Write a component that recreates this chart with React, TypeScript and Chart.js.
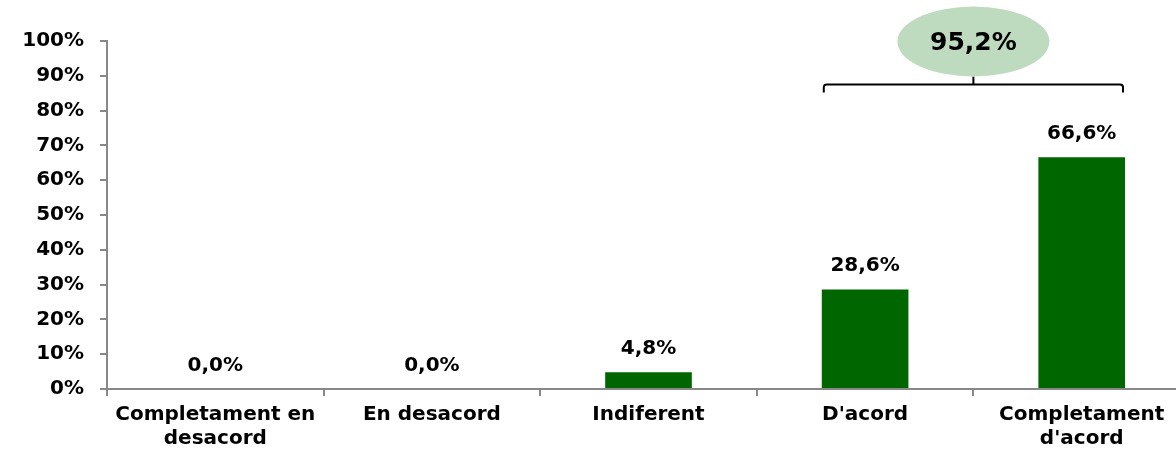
import React, { useEffect, useRef } from "react";
import { Chart, registerables } from "chart.js";

Chart.register(...registerables);

const categories: (string | string[])[] = [
  ["Completament en", "desacord"],
  "En desacord",
  "Indiferent",
  "D'acord",
  ["Completament", "d'acord"],
];
const values: number[] = [0.0, 0.0, 4.8, 28.6, 66.6];
const valueLabels: string[] = ["0,0%", "0,0%", "4,8%", "28,6%", "66,6%"];
const yTicks: number[] = [0, 10, 20, 30, 40, 50, 60, 70, 80, 90, 100];
const summaryLabel = "95,2%";
const summaryLevel = 87.5;
const summaryFrom = 3;
const summaryTo = 4;

const FONT = '"DejaVu Sans", Verdana, sans-serif';

const overlayPlugin = {
  id: "overlay",
  afterDatasetsDraw(chart: any) {
    const ctx = chart.ctx;
    const meta = chart.getDatasetMeta(0);
    const y = chart.scales.y;
    ctx.save();
    ctx.fillStyle = "#000";
    ctx.font = `normal 700 20px ${FONT}`;
    ctx.textAlign = "center";
    ctx.textBaseline = "alphabetic";
    meta.data.forEach((bar: any, i: number) => {
      ctx.fillText(valueLabels[i], bar.x, bar.y - 18);
    });
    // bracket
    const b1 = meta.data[summaryFrom];
    const b2 = meta.data[summaryTo];
    const left = b1.x - b1.width / 2 + 2;
    const right = b2.x + b2.width / 2 - 2;
    const mid = (left + right) / 2;
    const by = y.getPixelForValue(summaryLevel);
    ctx.strokeStyle = "#000";
    ctx.lineWidth = 2;
    ctx.beginPath();
    ctx.moveTo(left, by + 8);
    ctx.lineTo(left, by + 3);
    ctx.quadraticCurveTo(left, by, left + 3, by);
    ctx.lineTo(right - 3, by);
    ctx.quadraticCurveTo(right, by, right, by + 3);
    ctx.lineTo(right, by + 8);
    ctx.moveTo(mid, by);
    ctx.lineTo(mid, by - 8);
    ctx.stroke();
    // ellipse
    const ey = by - 43;
    ctx.fillStyle = "#bfdbbf";
    ctx.beginPath();
    ctx.ellipse(mid, ey, 76, 35, 0, 0, Math.PI * 2);
    ctx.fill();
    ctx.fillStyle = "#000";
    ctx.font = `normal 700 25px ${FONT}`;
    ctx.textBaseline = "middle";
    ctx.fillText(summaryLabel, mid, ey + 2);
    ctx.restore();
  },
};

export default function App() {
  const ref = useRef<HTMLCanvasElement>(null);
  useEffect(() => {
    if (!ref.current) return;
    const chart = new Chart(ref.current, {
      type: "bar",
      data: {
        labels: categories,
        datasets: [
          {
            data: values,
            backgroundColor: "#006600",
            categoryPercentage: 1,
            barPercentage: 0.4,
          },
        ],
      },
      options: {
        animation: false,
        responsive: false,
        maintainAspectRatio: false,
        layout: { padding: { top: 41, left: 0, right: 0, bottom: 0 } },
        plugins: { legend: { display: false }, tooltip: { enabled: false } },
        scales: {
          x: {
            offset: true,
            grid: {
              offset: true,
              drawOnChartArea: false,
              drawTicks: true,
              tickLength: 7,
              color: "#888888",
              lineWidth: 2,
            },
            border: { color: "#888888", width: 2 },
            ticks: {
              color: "#000",
              font: { family: FONT, weight: "bold", size: 20, lineHeight: 1.2 },
              padding: 7,
              maxRotation: 0,
              autoSkip: false,
            },
            afterFit(scale: any) {
              scale.height = 66;
            },
          },
          y: {
            min: 0,
            max: 100,
            afterBuildTicks(scale: any) {
              scale.ticks = yTicks.map((v) => ({ value: v }));
            },
            grid: {
              drawOnChartArea: false,
              drawTicks: true,
              tickLength: 7,
              color: "#888888",
              lineWidth: 2,
            },
            border: { color: "#888888", width: 2 },
            ticks: {
              color: "#000",
              font: { family: FONT, weight: "bold", size: 20 },
              padding: 16,
              callback: (v: any) => `${v}%`,
            },
            afterFit(scale: any) {
              scale.width = 107;
            },
          },
        },
      },
      plugins: [overlayPlugin],
    });
    return () => chart.destroy();
  }, []);
  return (
    <div
      style={{
        position: "absolute",
        left: 0,
        top: 0,
        width: 1176,
        height: 455,
        overflow: "hidden",
        background: "#fff",
      }}
    >
      <canvas ref={ref} width={1190} height={455} style={{ display: "block" }} />
    </div>
  );
}
